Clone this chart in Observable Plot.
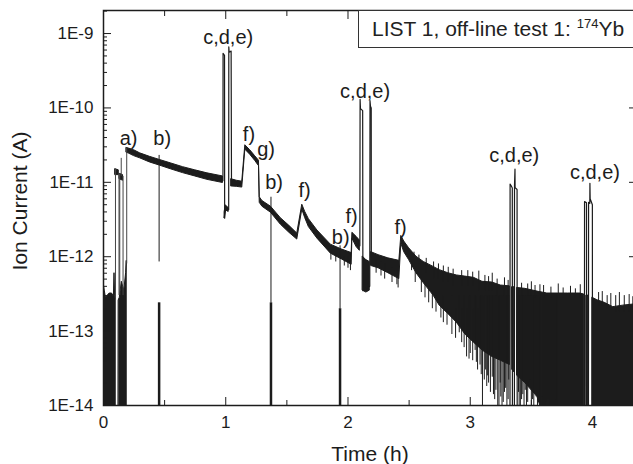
<!DOCTYPE html>
<html><head><meta charset="utf-8">
<script src="https://cdn.jsdelivr.net/npm/d3@7"></script>
<script src="https://cdn.jsdelivr.net/npm/@observablehq/plot@0.6"></script>
<style>
html,body{margin:0;padding:0;background:#fff;overflow:hidden;}
#wrap{position:relative;width:633px;height:464px;overflow:hidden;font-family:"Liberation Sans",Arial,sans-serif;}
#wrap svg{max-width:none !important;width:638px;height:464px;display:block;}
#legend{position:absolute;left:358px;top:10px;width:300px;height:38px;border:1px solid #333;box-sizing:border-box;font-size:21px;line-height:36px;padding-left:13px;color:#222;background:#fff;white-space:nowrap;}
#legend span.sup{font-size:13px;position:relative;top:-8px;}
</style></head><body><div id="wrap"></div>
<script>
// ---- axis ticks ----
const xMajor = [0, 1, 2, 3, 4];
const xMajorLabels = ["0", "1", "2", "3", "4"];
const xMinor = [0.5, 1.5, 2.5, 3.5];
const yMajor = [1e-14, 1e-13, 1e-12, 1e-11, 1e-10, 1e-9];
const yMajorLabels = ["1E-14", "1E-13", "1E-12", "1E-11", "1E-10", "1E-9"];
const yMinorMult = [2, 3, 4, 5, 6, 7, 8, 9];

// ---- main trace band (time h, upper A, lower A); null = gap ----
const bandT = [
  0.000, 0.010, 0.020, 0.035, 0.050, 0.070, 0.085, 0.090, 0.095, 0.100, 0.101,
  0.125, 0.133, 0.150, 0.170, 0.185, 0.190, 0.191,
  0.098, 0.125, 0.126,
  0.133, 0.160, 0.161,
  0.190, 0.205, 0.250, 0.300, 0.380, 0.460, 0.550, 0.650, 0.750, 0.850, 0.977, 0.978,
  0.991, 1.000, 1.024, 1.025,
  1.047, 1.090, 1.135, 1.160, 1.200, 1.240, 1.272, 1.278, 1.300, 1.370, 1.450, 1.520, 1.585,
  1.626, 1.650, 1.680, 1.750, 1.860, 1.950, 2.030, 2.036, 2.070, 2.097, 2.098,
  2.122, 2.150, 2.178, 2.179,
  2.191, 2.250, 2.330, 2.420, 2.436, 2.460, 2.500, 2.560, 2.620, 2.700, 2.750, 2.820,
  2.890, 2.960, 3.030, 3.100, 3.180, 3.250, 3.324, 3.325,
  3.345, 3.360, 3.361,
  3.385, 3.450, 3.550, 3.630, 3.720, 3.800, 3.900, 3.933, 3.934,
  3.952, 3.966, 3.967,
  4.001, 4.040, 4.100, 4.170, 4.250, 4.360
];
const bandHi = [
  4.5e-13, 3.5e-13, 2.8e-13, 3.0e-13, 3.2e-13, 3.2e-13, 2.9e-13, 6.0e-13, 3.0e-13, 2.6e-13, null,
  2.6e-13, 2.8e-13, 4.6e-13, 3.5e-13, 6.0e-13, 8.8e-13, null,
  1.5e-11, 1.45e-11, null,
  1.3e-11, 1.25e-11, null,
  2.9e-11, 2.85e-11, 2.7e-11, 2.45e-11, 2.2e-11, 2.0e-11, 1.8e-11, 1.6e-11, 1.45e-11, 1.32e-11, 1.2e-11, null,
  4.0e-12, 4.9e-12, 4.5e-12, null,
  1.1e-11, 1.05e-11, 1.02e-11, 3.15e-11, 2.7e-11, 2.25e-11, 1.95e-11, 6.3e-12, 5.6e-12, 4.7e-12, 3.3e-12, 2.6e-12, 2.05e-12,
  5.0e-12, 4.0e-12, 3.2e-12, 2.25e-12, 1.45e-12, 1.25e-12, 1.12e-12, 2.1e-12, 1.85e-12, 1.65e-12, null,
  1.0e-12, 9.0e-13, 8.5e-13, null,
  1.15e-12, 1.05e-12, 9.5e-13, 8.8e-13, 1.9e-12, 1.6e-12, 1.3e-12, 1.0e-12, 8.5e-13, 7.3e-13, 6.6e-13, 6.0e-13,
  5.6e-13, 5.4e-13, 5.2e-13, 4.6e-13, 4.5e-13, 4.1e-13, 4.0e-13, null,
  3.9e-13, 3.9e-13, null,
  3.8e-13, 3.7e-13, 3.4e-13, 3.2e-13, 3.2e-13, 3.2e-13, 3.2e-13, 3.1e-13, null,
  3.0e-13, 3.0e-13, null,
  2.8e-13, 2.6e-13, 2.4e-13, 2.1e-13, 2.2e-13, 2.3e-13
];
const bandLo = [
  5e-15, 5e-15, 5e-15, 5e-15, 5e-15, 5e-15, 5e-15, 5e-15, 5e-15, 5e-15, null,
  5e-15, 5e-15, 5e-15, 5e-15, 5e-15, 5e-15, null,
  1.25e-11, 1.25e-11, null,
  1.1e-11, 1.05e-11, null,
  2.5e-11, 2.45e-11, 2.25e-11, 2.1e-11, 1.85e-11, 1.68e-11, 1.5e-11, 1.33e-11, 1.2e-11, 1.08e-11, 0.98e-11, null,
  3.3e-12, 4.2e-12, 4.0e-12, null,
  0.88e-11, 0.87e-11, 0.85e-11, 2.75e-11, 2.35e-11, 1.95e-11, 1.65e-11, 5.3e-12, 4.7e-12, 3.9e-12, 2.7e-12, 2.1e-12, 1.7e-12,
  4.3e-12, 3.3e-12, 2.5e-12, 1.75e-12, 1.1e-12, 0.92e-12, 0.78e-12, 1.75e-12, 1.35e-12, 1.2e-12, null,
  3.5e-13, 3.3e-13, 3.5e-13, null,
  7.5e-13, 7.0e-13, 6.0e-13, 5.0e-13, 1.5e-12, 1.15e-12, 9.0e-13, 6.0e-13, 4.4e-13, 3.0e-13, 2.2e-13, 1.7e-13,
  1.3e-13, 9e-14, 7e-14, 5.5e-14, 4.5e-14, 4e-14, 3.5e-14, null,
  3.0e-14, 2.8e-14, null,
  2.5e-14, 2.0e-14, 1.3e-14, 5e-15, 5e-15, 5e-15, 5e-15, 5e-15, null,
  5e-15, 5e-15, null,
  5e-15, 5e-15, 5e-15, 5e-15, 5e-15, 5e-15
];

// ---- noise spikes (time, from, to) ----
const spikeT = [
  1.86, 1.90, 1.97, 2.00, 2.02, 2.23, 2.27, 2.30, 2.36, 2.40, 2.41,
  2.52, 2.55, 2.60, 2.63, 2.66, 2.69, 2.72, 2.76, 2.78, 2.81, 2.85, 2.88, 2.91, 2.93, 2.95, 2.97,
  3.00, 3.02, 3.04, 3.06, 3.08, 3.10, 3.126, 3.14, 3.15, 3.165, 3.18, 3.20, 3.21, 3.225, 3.235,
  3.25, 3.26, 3.28, 3.30, 3.31, 3.40, 3.41, 3.43, 3.44, 3.46, 3.49, 3.50, 3.52, 3.54, 3.55, 3.57,
  3.60, 3.61, 3.63, 3.65, 3.66, 3.68, 3.71,
  2.99, 3.05, 3.09, 3.115, 3.135, 3.19, 3.245, 3.27, 3.29, 3.315, 3.395, 3.42, 3.45, 3.47, 3.48,
  3.51, 3.53, 3.56, 3.585, 3.595, 3.62, 3.64, 3.67, 3.69, 3.70,
  2.54, 2.58, 2.64, 2.70, 2.74, 2.78, 2.82, 2.86, 2.93, 2.98, 3.02, 3.07, 3.12, 3.15, 3.18, 3.22,
  3.28, 3.31, 3.42, 3.47, 3.50, 3.53, 3.57, 3.60, 3.66, 3.72, 3.76, 3.82, 3.86, 3.90, 4.05, 4.08,
  4.12, 4.15, 4.19, 4.22, 4.26, 4.30, 4.33
];
const spikeFrom = [
  1.2e-12, 1.1e-12, 1.0e-12, 1.0e-12, 9e-13, 9e-13, 8.5e-13, 8e-13, 7e-13, 6.5e-13, 6.5e-13,
  9e-13, 7e-13, 5e-13, 4.5e-13, 4e-13, 3.5e-13, 3e-13, 2.5e-13, 3e-13, 2e-13, 3e-13, 2e-13, 3e-13, 2e-13, 3e-13, 2e-13,
  3e-13, 2e-13, 3e-13, 2e-13, 3e-13, 3e-13, 3e-13, 3e-13, 3e-13, 3e-13, 3e-13, 3e-13, 3e-13, 3e-13, 3e-13,
  3e-13, 3e-13, 3e-13, 3e-13, 3e-13, 3e-13, 3e-13, 3e-13, 3e-13, 3e-13, 3e-13, 3e-13, 3e-13, 3e-13, 3e-13, 3e-13,
  3e-13, 3e-13, 3e-13, 3e-13, 3e-13, 3e-13, 3e-13,
  3e-13, 3e-13, 3e-13, 3e-13, 3e-13, 3e-13, 3e-13, 3e-13, 3e-13, 3e-13, 3e-13, 3e-13, 3e-13, 3e-13, 3e-13,
  3e-13, 3e-13, 3e-13, 3e-13, 3e-13, 3e-13, 3e-13, 3e-13, 3e-13, 3e-13,
  9e-13, 8e-13, 6e-13, 5e-13, 5e-13, 4.5e-13, 4.5e-13, 4e-13, 4e-13, 4e-13, 4e-13, 3.5e-13, 3.5e-13, 3.5e-13, 3.5e-13, 3e-13,
  3e-13, 3e-13, 3e-13, 3e-13, 3e-13, 2.8e-13, 2.8e-13, 2.8e-13, 2.8e-13, 2.8e-13, 2.8e-13, 2.8e-13, 2.8e-13, 2.8e-13, 2.2e-13, 2.2e-13,
  2e-13, 2e-13, 1.8e-13, 1.8e-13, 1.8e-13, 1.8e-13, 1.8e-13
];
const spikeTo = [
  9e-13, 8.5e-13, 7.5e-13, 7e-13, 6.5e-13, 6e-13, 5.5e-13, 5e-13, 4.5e-13, 4.2e-13, 3.8e-13,
  6.5e-13, 4.5e-13, 3.3e-13, 2.8e-13, 2.4e-13, 2.0e-13, 1.8e-13, 1.5e-13, 1.3e-13, 1.2e-13, 9e-14, 8e-14, 9.5e-14, 7e-14, 6e-14, 4.5e-14,
  5e-14, 4e-14, 5.5e-14, 3e-14, 3.5e-14, 5e-15, 3e-14, 2.5e-14, 2e-14, 1.5e-14, 2.4e-14, 1.2e-14, 1.6e-14, 5e-15, 5e-15,
  1.3e-14, 5e-15, 1.5e-14, 5e-15, 1.2e-14, 5e-15, 5e-15, 1.4e-14, 5e-15, 5e-15, 2.2e-14, 5e-15, 5e-15, 1.3e-14, 5e-15, 5e-15,
  5e-15, 5e-15, 5e-15, 5e-15, 5e-15, 5e-15, 5e-15,
  4.2e-14, 3.8e-14, 2.6e-14, 2.2e-14, 1.8e-14, 1.4e-14, 2.0e-14, 1.1e-14, 1.7e-14, 2.2e-14, 1.5e-14, 1.2e-14, 1.6e-14, 1.1e-14, 2.0e-14,
  1.2e-14, 1.5e-14, 1.1e-14, 1.3e-14, 5e-15, 1.1e-14, 1.2e-14, 1.1e-14, 5e-15, 1.2e-14,
  1.15e-12, 1.05e-12, 9.5e-13, 8.5e-13, 8.0e-13, 7.5e-13, 7.2e-13, 6.8e-13, 6.5e-13, 6.5e-13, 6.2e-13, 6.4e-13, 5.6e-13, 5.4e-13, 6.0e-13, 5.0e-13,
  5.2e-13, 4.8e-13, 4.4e-13, 4.3e-13, 4.6e-13, 4.1e-13, 4.2e-13, 4.1e-13, 3.9e-13, 4.3e-13, 3.8e-13, 4.0e-13, 3.7e-13, 4.2e-13, 3.3e-13, 3.4e-13,
  3.0e-13, 3.2e-13, 3.0e-13, 3.3e-13, 3.0e-13, 3.1e-13, 2.9e-13
];

// ---- vertical edges near start (time, low, high) ----
const edgeT  = [0.098, 0.127, 0.133, 0.145, 0.160, 0.190];
const edgeLo = [2.6e-13, 3.0e-13, 3.0e-13, 1.2e-11, 3.0e-13, 8.0e-13];
const edgeHi = [1.5e-11, 1.3e-11, 1.3e-11, 2.1e-11, 1.2e-11, 2.9e-11];

// ---- b) events: thin line and thick foot ----
const bT         = [0.455, 1.370, 1.935];
const bThinTop   = [2.3e-11, 6.3e-12, 1.4e-12];
const bThinBot   = [8.5e-13, 2.4e-13, 2.0e-13];
const bThickTop  = [2.4e-13, 2.4e-13, 2.0e-13];
const bThickBot  = [5e-15, 5e-15, 5e-15];

// ---- c,d,e) pulses ----
const pulseId = [
  "p1","p1","p1","p1","p1","p1","p1","p1","p1","p1",
  "p2","p2","p2","p2","p2","p2","p2","p2","p2","p2",
  "p3a","p3a","p3a","p3a","p3a",
  "p3b","p3b","p3b","p3b","p3b","p3b",
  "p4a","p4a","p4a","p4a",
  "p4b","p4b","p4b","p4b","p4b","p4b","p4b"
];
const pulseT = [
  0.977, 0.978, 0.990, 0.991, 1.000, 1.024, 1.025, 1.028, 1.044, 1.047,
  2.097, 2.099, 2.102, 2.120, 2.122, 2.178, 2.180, 2.184, 2.190, 2.191,
  3.325, 3.326, 3.335, 3.344, 3.345,
  3.361, 3.362, 3.366, 3.367, 3.383, 3.384,
  3.934, 3.935, 3.951, 3.952,
  3.967, 3.968, 3.978, 3.979, 3.981, 3.999, 4.000
];
const pulseI = [
  1.05e-11, 5.4e-10, 5.1e-10, 3.3e-12, 4.6e-12, 4.3e-12, 6.6e-10, 5.6e-10, 5.8e-10, 1.0e-11,
  1.4e-12, 1.3e-10, 9.8e-11, 9.2e-11, 3.5e-13, 4.0e-13, 1.25e-10, 1.05e-10, 1.0e-10, 1.0e-12,
  5e-15, 9.5e-12, 9.0e-12, 8.4e-12, 5e-15,
  5e-15, 9.0e-12, 1.5e-11, 8.5e-12, 8.0e-12, 5e-15,
  5e-15, 5.5e-12, 5.3e-12, 5e-15,
  5e-15, 5.4e-12, 5.2e-12, 9.7e-12, 6.0e-12, 5.0e-12, 5e-15
];

// ---- annotations ----
const annText = ["a)", "b)", "c,d,e)", "f)", "g)", "b)", "f)", "b)", "f)", "c,d,e)", "f)", "c,d,e)", "c,d,e)"];
const annT    = [0.205, 0.48, 1.02, 1.19, 1.33, 1.395, 1.645, 1.94, 2.03, 2.14, 2.43, 3.36, 4.02];
const annI    = [3.9e-11, 3.9e-11, 8.8e-10, 4.4e-11, 2.75e-11, 1.0e-11, 7.8e-12, 1.8e-12, 3.5e-12, 1.66e-10, 2.5e-12, 2.3e-11, 1.35e-11];

// ---- build tables ----
const band = bandT.map((t, i) => ({t, hi: bandHi[i], lo: bandLo[i]}));
const spikes = spikeT.map((t, i) => ({t, a: spikeFrom[i], b: spikeTo[i]}));
const edges = edgeT.map((t, i) => ({t, lo: edgeLo[i], hi: edgeHi[i]}));
const bThin = bT.map((t, i) => ({t, lo: bThinBot[i], hi: bThinTop[i]}));
const bThick = bT.map((t, i) => ({t, lo: bThickBot[i], hi: bThickTop[i]}));
const pulses = pulseT.map((t, i) => ({id: pulseId[i], t, v: pulseI[i]}));
const ann = annT.map((t, i) => ({t, v: annI[i], label: annText[i]}));
const yMinor = yMajor.flatMap(d => yMinorMult.map(m => m * d)).filter(v => v < 2.04e-9);

const ink = "#1c1c1c";
const blank = () => "";

const chart = Plot.plot({
  width: 638,
  height: 464,
  marginTop: 10,
  marginBottom: 59,
  marginLeft: 103,
  marginRight: 2,
  style: {fontFamily: "'Liberation Sans', Arial, sans-serif", color: ink, background: "#fff"},
  x: {domain: [0, 4.36]},
  y: {type: "log", domain: [1e-14, 2.04e-9]},
  marks: [
    Plot.areaY(band, {x: "t", y1: "lo", y2: "hi", fill: ink, stroke: ink, strokeWidth: 1, clip: true}),
    Plot.ruleX(spikes, {x: "t", y1: "a", y2: "b", stroke: ink, strokeWidth: 1, clip: true}),
    Plot.ruleX(edges, {x: "t", y1: "lo", y2: "hi", stroke: "#444", strokeWidth: 1, clip: true}),
    Plot.ruleX(bThin, {x: "t", y1: "lo", y2: "hi", stroke: ink, strokeWidth: 1, clip: true}),
    Plot.ruleX(bThick, {x: "t", y1: "lo", y2: "hi", stroke: ink, strokeWidth: 2.5, clip: true}),
    Plot.line(pulses, {x: "t", y: "v", z: "id", stroke: ink, strokeWidth: 1.2, clip: true}),
    Plot.text(ann, {x: "t", y: "v", text: "label", fontSize: 20, fill: ink}),
    Plot.frame({stroke: ink, strokeWidth: 1.5}),
    Plot.axisX(xMajor, {anchor: "bottom", tickSize: -8, tickPadding: 18, fontSize: 17, label: null,
      tickFormat: d => xMajorLabels[xMajor.indexOf(d)]}),
    Plot.axisX(xMinor, {anchor: "bottom", tickSize: -5, label: null, tickFormat: blank}),
    Plot.axisX(xMajor, {anchor: "top", tickSize: -8, label: null, tickFormat: blank}),
    Plot.axisX(xMinor, {anchor: "top", tickSize: -5, label: null, tickFormat: blank}),
    Plot.axisY(yMajor, {anchor: "left", tickSize: -8, tickPadding: 18, fontSize: 17, label: null,
      tickFormat: d => yMajorLabels[yMajor.indexOf(d)]}),
    Plot.axisY(yMinor, {anchor: "left", tickSize: -4, label: null, tickFormat: blank}),
    Plot.axisY(yMajor, {anchor: "right", tickSize: -8, label: null, tickFormat: blank}),
    Plot.axisY(yMinor, {anchor: "right", tickSize: -4, label: null, tickFormat: blank}),
    Plot.text(["Time (h)"], {text: d => d, frameAnchor: "bottom", textAnchor: "middle", lineAnchor: "middle", dy: 49, fontSize: 21, fill: ink}),
    Plot.text(["Ion Current (A)"], {text: d => d, frameAnchor: "left", textAnchor: "middle", lineAnchor: "middle", dx: -83, dy: -7, rotate: -90, fontSize: 21, fill: ink})
  ]
});

const wrap = document.getElementById("wrap");
wrap.appendChild(chart);
const legend = document.createElement("div");
legend.id = "legend";
legend.innerHTML = 'LIST 1, off-line test 1: <span class="sup">174</span>Yb';
wrap.appendChild(legend);
</script></body></html>
